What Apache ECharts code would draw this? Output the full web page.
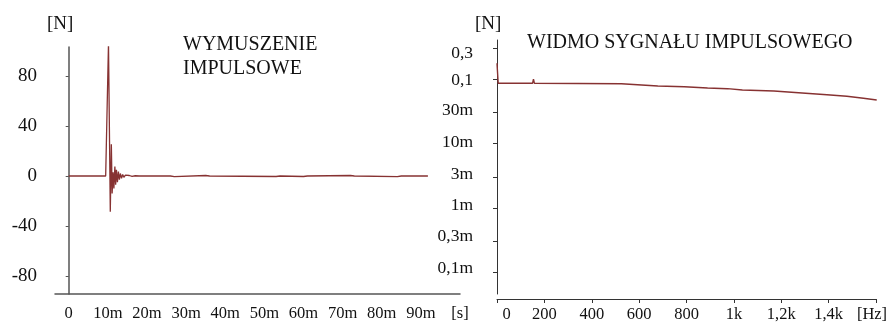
<!DOCTYPE html>
<html>
<head>
<meta charset="utf-8">
<script src="https://cdn.jsdelivr.net/npm/echarts@6/dist/echarts.min.js"></script>
<style>html,body{margin:0;padding:0;background:#fff}#c{width:888px;height:324px}</style>
</head>
<body>
<div id="c"></div>
<script>
// ---- Left chart: impulse excitation (time in ms, force in N)
const timeMs = [0, 9.45, 10.17, 10.63, 10.9, 11.1, 11.35, 11.55, 11.8, 12.0, 12.2, 12.45, 12.7, 12.95, 13.2, 13.5, 13.8, 14.1, 14.5, 15.0, 15.5, 16.2, 17, 18, 26, 27, 35, 36, 53, 54, 60, 61, 72, 73, 84, 85, 91.8];
const forceN = [0, 0, 106, -28.6, 25.4, -14, 3, -10, 7.5, -7, 5, -5, 3.5, -3, 2, -1.8, 1.2, -1, 0.7, -0.5, 0.4, -0.3, 0.2, 0, 0, -0.5, 0.4, 0, -0.4, 0, -0.4, 0, 0.4, 0, -0.5, 0, 0];
const leftXTicks = [0, 10, 20, 30, 40, 50, 60, 70, 80, 90, 100];
const leftXLabels = ['0', '10m', '20m', '30m', '40m', '50m', '60m', '70m', '80m', '90m', '[s]'];
const leftYTicks = [-80, -40, 0, 40, 80];

// ---- Right chart: spectrum (frequency in Hz, amplitude in N, log)
const freqHz = [0, 5, 47, 49, 51, 150, 154, 158, 525, 530, 679, 791, 889, 973, 1036, 1169, 1288, 1393, 1477, 1547, 1603];
const ampN = [0.175, 0.0858, 0.0858, 0.0807, 0.0858, 0.0858, 0.099, 0.0858, 0.0845, 0.0828, 0.0779, 0.076, 0.0725, 0.0708, 0.0676, 0.0651, 0.0607, 0.0571, 0.0539, 0.0502, 0.0472];
const rightXTicks = [0, 200, 400, 600, 800, 1000, 1200, 1400, 1600];
const rightXLabels = ['0', '200', '400', '600', '800', '1k', '1,2k', '1,4k', '[Hz]'];
const rightYTicks = [0.3, 0.1, 0.03, 0.01, 0.003, 0.001, 0.0003, 0.0001];
const rightYLabels = ['0,3', '0,1', '30m', '10m', '3m', '1m', '0,3m', '0,1m'];

// style: vertical nudge (px) of each right-axis label relative to its tick
const rightYLabelShift = [5.4, 1, -2.7, -1.2, -3.2, -2.5, -5.5, -4.4];

const FONT = 'Liberation Serif';
const LINE = '#873232';

function idxOf(arr, v) {
  for (let i = 0; i < arr.length; i++) if (Math.abs(arr[i] - v) < 1e-6) return i;
  return -1;
}
const rightYLog = rightYTicks.map(v => Math.log10(v));
const leftData = timeMs.map((t, i) => [t, forceN[i]]);
const rightData = freqHz.map((f, i) => [f, Math.log10(ampN[i])]);

const yRich = {};
rightYLabelShift.forEach((s, i) => {
  yRich['r' + i] = {
    fontFamily: FONT, fontSize: 17.5, color: '#111',
    padding: s >= 0 ? [2 * s, 0, 0, 0] : [0, 0, -2 * s, 0]
  };
});

const chart = echarts.init(document.getElementById('c'), null, {renderer: 'canvas'});
chart.setOption({
  animation: false,
  backgroundColor: '#fff',
  grid: [
    {left: 55, right: 428, top: 47, bottom: 30, containLabel: false, outerBoundsMode: 'none'},
    {left: 497, right: 12, top: 40, bottom: 30, containLabel: false, outerBoundsMode: 'none'}
  ],
  graphic: [
    {type: 'text', left: 47, top: 15, style: {text: '[N]', font: '19px "' + FONT + '"', fill: '#111'}},
    {type: 'text', left: 475, top: 15, style: {text: '[N]', font: '19px "' + FONT + '"', fill: '#111'}},
    {type: 'text', left: 183, top: 33, style: {text: 'WYMUSZENIE\nIMPULSOWE', font: '20px "' + FONT + '"', lineHeight: 23.5, fill: '#111'}},
    {type: 'text', left: 527, top: 33, style: {text: 'WIDMO SYGNAŁU IMPULSOWEGO', font: '20px "' + FONT + '"', fill: '#111'}}
  ],
  xAxis: [
    {
      type: 'value', gridIndex: 0, min: -3.5, max: 100,
      axisLine: {onZero: false, lineStyle: {color: '#555', width: 1.5}},
      axisTick: {show: false},
      splitLine: {show: false},
      axisLabel: {
        customValues: leftXTicks, margin: 11, color: '#111', fontFamily: FONT, fontSize: 16.5,
        formatter: v => { const i = idxOf(leftXTicks, v); return i >= 0 ? leftXLabels[i] : ''; }
      }
    },
    {
      type: 'value', gridIndex: 1, min: 0, max: 1600, offset: 5,
      axisLine: {onZero: false, lineStyle: {color: '#333', width: 1}},
      axisTick: {customValues: rightXTicks, length: 4, lineStyle: {color: '#333'}},
      splitLine: {show: false},
      axisLabel: {
        customValues: rightXTicks, margin: 7, color: '#111', fontFamily: FONT, fontSize: 16.5,
        formatter: v => {
          const i = idxOf(rightXTicks, v);
          if (i < 0) return '';
          if (i === 0) return '{z|' + rightXLabels[i] + '}';
          if (i === rightXTicks.length - 1) return '{h|' + rightXLabels[i] + '}';
          return rightXLabels[i];
        },
        rich: {
          z: {fontFamily: FONT, fontSize: 16.5, color: '#111', padding: [0, 0, 0, 19]},
          h: {fontFamily: FONT, fontSize: 16.5, color: '#111', padding: [0, 8, 0, 0]}
        }
      }
    }
  ],
  yAxis: [
    {
      type: 'value', gridIndex: 0, min: -94.4, max: 103.2,
      axisLine: {show: true, onZero: true, lineStyle: {color: '#555', width: 1.5}},
      axisTick: {show: true, customValues: leftYTicks, length: 3, lineStyle: {color: '#555'}},
      splitLine: {show: false},
      axisLabel: {customValues: leftYTicks, margin: 18, color: '#111', fontFamily: FONT, fontSize: 19}
    },
    {
      type: 'value', gridIndex: 1, min: -4.3333, max: -0.3953,
      axisLine: {show: true, onZero: false, lineStyle: {color: '#333', width: 1}},
      axisTick: {show: true, customValues: rightYLog, length: 4, lineStyle: {color: '#333'}},
      splitLine: {show: false},
      axisLabel: {
        customValues: rightYLog, margin: 24, color: '#111', fontFamily: FONT, fontSize: 17.5,
        formatter: v => { const i = idxOf(rightYLog, v); return i >= 0 ? '{r' + i + '|' + rightYLabels[i] + '}' : ''; },
        rich: yRich
      }
    }
  ],
  series: [
    {type: 'line', xAxisIndex: 0, yAxisIndex: 0, data: leftData, showSymbol: false, lineStyle: {color: LINE, width: 1.3}},
    {type: 'line', xAxisIndex: 1, yAxisIndex: 1, data: rightData, showSymbol: false, lineStyle: {color: LINE, width: 1.4}}
  ]
});
</script>
</body>
</html>
